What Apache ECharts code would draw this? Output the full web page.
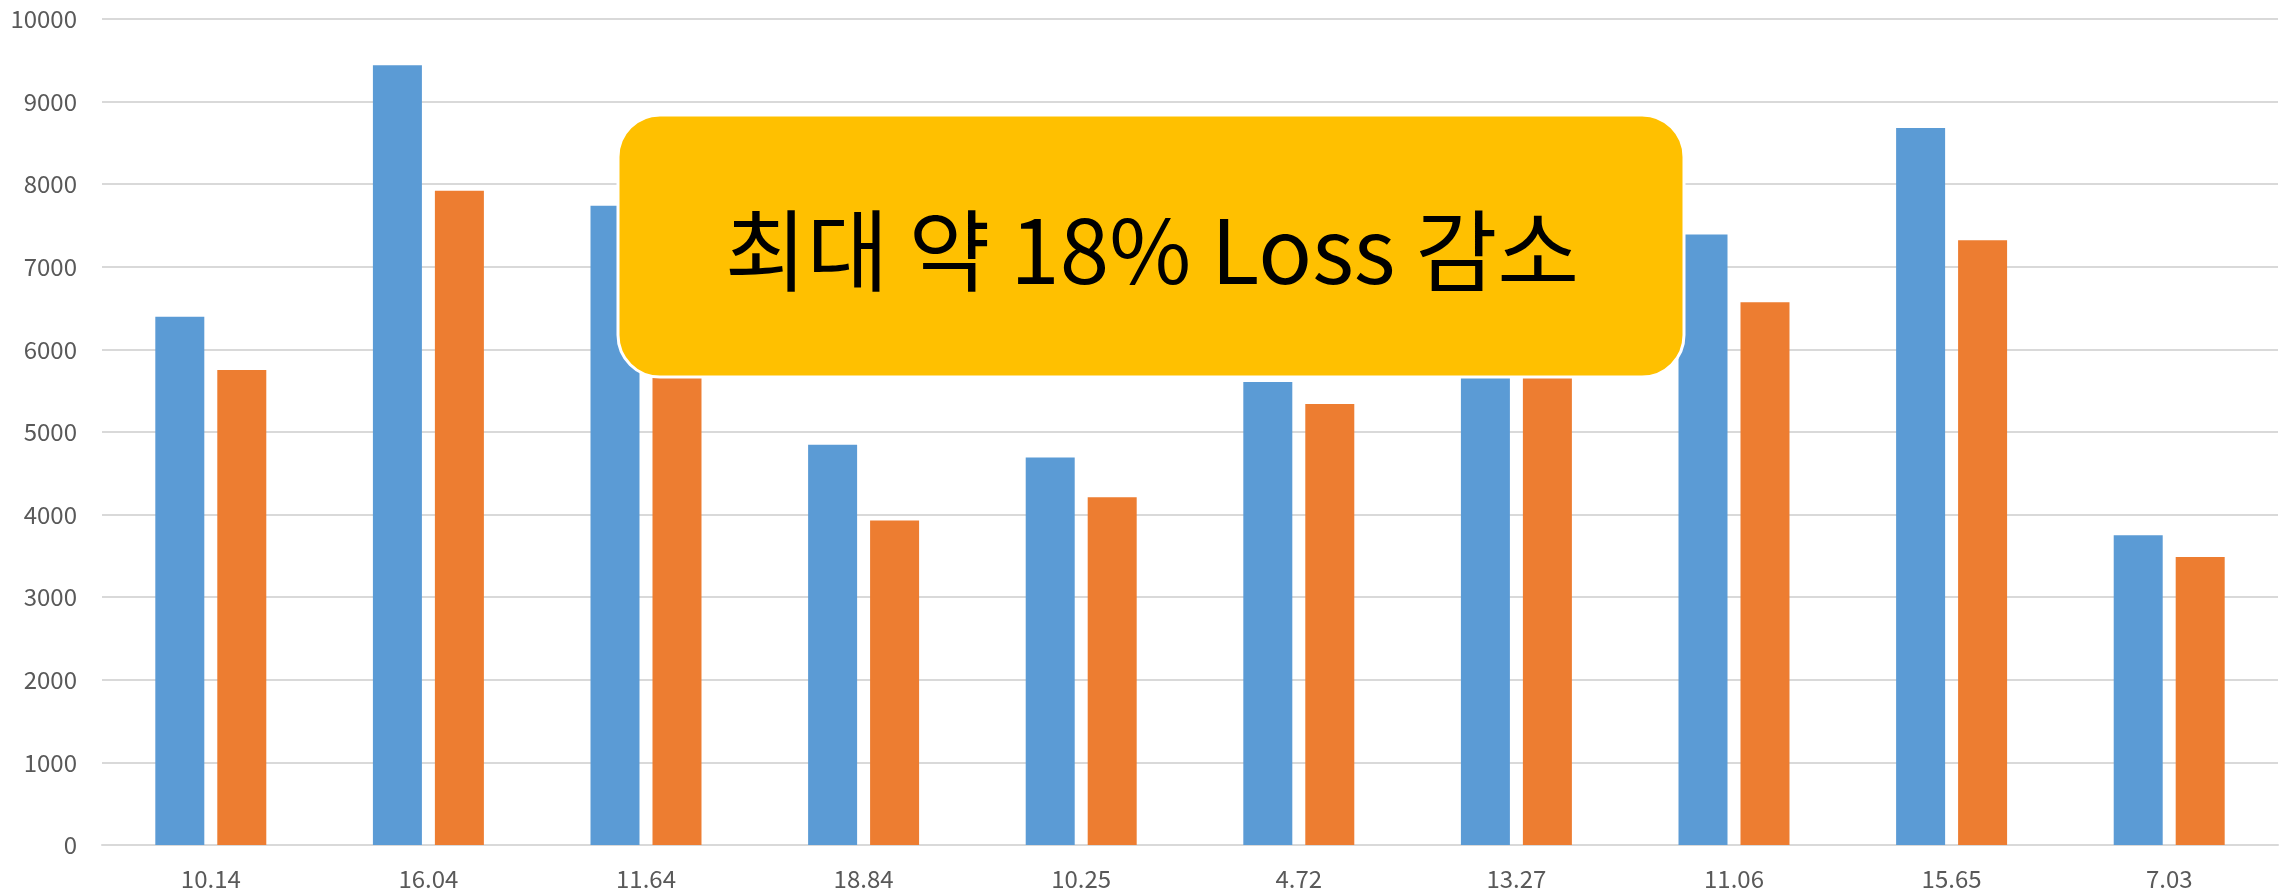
<!DOCTYPE html>
<html>
<head>
<meta charset="utf-8">
<script src="https://cdn.jsdelivr.net/npm/echarts@6/dist/echarts.min.js"></script>
<style>
html,body{margin:0;padding:0;background:#fff;}
#chart{width:2285px;height:895px;}
</style>
</head>
<body>
<div id="chart"></div>
<script>
const categories = ['10.14', '16.04', '11.64', '18.84', '10.25', '4.72', '13.27', '11.06', '15.65', '7.03'];
const seriesBefore = [6395, 9440, 7740, 4845, 4690, 5605, 6650, 7390, 8680, 3750];
const seriesAfter = [5750, 7920, 6840, 3930, 4210, 5340, 5770, 6570, 7320, 3488];
const yTicks = { min: 0, max: 10000, interval: 1000 };
const calloutText = '최대 약 18% Loss 감소';

const chart = echarts.init(document.getElementById('chart'));
chart.setOption({
  animation: false,
  backgroundColor: '#ffffff',
  grid: { left: 102, right: 7, top: 19, bottom: 50, containLabel: false },
  xAxis: {
    type: 'category',
    data: categories,
    axisLine: { show: true, lineStyle: { color: '#d9d9d9', width: 2 } },
    axisTick: { show: false },
    axisLabel: { color: '#595959', fontSize: 24, fontFamily: 'Noto Sans CJK KR', margin: 22 }
  },
  yAxis: {
    type: 'value',
    min: yTicks.min, max: yTicks.max, interval: yTicks.interval,
    axisLine: { show: false },
    axisTick: { show: false },
    splitLine: { lineStyle: { color: '#d9d9d9', width: 2 } },
    axisLabel: { color: '#595959', fontSize: 24, fontFamily: 'Noto Sans CJK KR', margin: 25,
      formatter: function (v) { return String(v); } }
  },
  series: [
    { type: 'bar', data: seriesBefore, barWidth: 49, barGap: '26.5%',
      itemStyle: { color: '#5B9BD5' } },
    { type: 'bar', data: seriesAfter, barWidth: 49,
      itemStyle: { color: '#ED7D31' } }
  ],
  graphic: [
    {
      type: 'rect',
      shape: { x: 618, y: 115, width: 1066, height: 262, r: 42 },
      style: { fill: '#FFC000', stroke: '#ffffff', lineWidth: 3 },
      z: 100
    },
    {
      type: 'text',
      x: 1152, y: 250,
      style: {
        text: calloutText,
        fill: '#000000',
        font: '89px "Noto Sans CJK KR"',
        align: 'center',
        verticalAlign: 'middle'
      },
      z: 101
    }
  ]
});
</script>
</body>
</html>
